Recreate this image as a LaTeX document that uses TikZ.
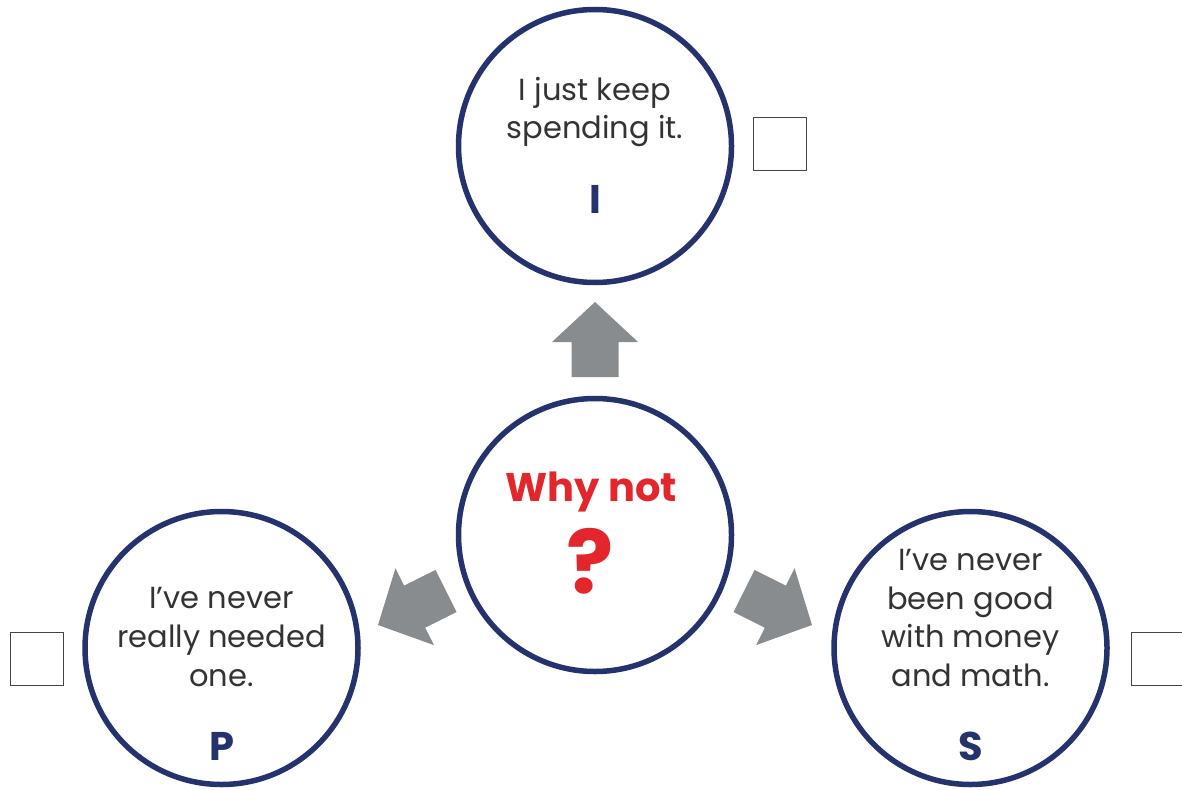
\documentclass[tikz,border=0pt]{standalone}
\usepackage{fontspec}
\setmainfont{Poppins}
\usetikzlibrary{calc}
\definecolor{navy}{HTML}{24336E}
\definecolor{txtgray}{HTML}{333333}
\definecolor{arrgray}{HTML}{898C8E}
\definecolor{whyred}{HTML}{E3262B}
\definecolor{boxgray}{HTML}{444444}
\tikzset{
  bubble/.style={circle, draw=navy, line width=5.5pt, fill=white, minimum size=273pt, inner sep=0pt},
  bodytext/.style={text=txtgray, align=center, font=\fontsize{30.5}{38.7}\selectfont},
  letter/.style={text=navy, font=\fontsize{40}{40}\selectfont\bfseries},
  tickbox/.style={draw=boxgray, line width=1.4pt, minimum size=53pt, inner sep=0pt},
  bigarrow/.style={fill=arrgray, draw=none},
}
% #1 tip, #2 back centre, #3 prefix for helper coordinates
\newcommand{\grayarrow}[3]{%
  \coordinate (#3h) at ($(#2)!35pt!(#1)$);
  \coordinate (#3a) at ($(#3h)!43pt!90:(#1)$);
  \coordinate (#3b) at ($(#3h)!23.5pt!90:(#1)$);
  \coordinate (#3c) at ($(#2)!23.5pt!90:(#1)$);
  \coordinate (#3d) at ($(#2)!23.5pt!-90:(#1)$);
  \coordinate (#3e) at ($(#3h)!23.5pt!-90:(#1)$);
  \coordinate (#3f) at ($(#3h)!43pt!-90:(#1)$);
  \fill[bigarrow] (#1) -- (#3a) -- (#3b) -- (#3c) -- (#3d) -- (#3e) -- (#3f) -- cycle;}
\begin{document}
\begin{tikzpicture}[x=1pt,y=-1pt]
\useasboundingbox (0,0) rectangle (1182,789);
\clip (0,0) rectangle (1182,789);
% circles
\node[bubble] (top) at (595,146) {};
\node[bubble] (mid) at (595,535) {};
\node[bubble] (left) at (221.5,648) {};
\node[bubble] (right) at (970.5,648) {};
% texts
\node[bodytext] (toptext) at (595,112) {I just keep\\spending it.};
\node[letter] (topletter) at (595,199) {I};
\node[bodytext] (lefttext) at (221.5,637) {I’ve never\\really needed\\one.};
\node[letter] (leftletter) at (222,746) {P};
\node[bodytext] (righttext) at (970.5,618) {I’ve never\\been good\\with money\\and math.};
\node[letter] (rightletter) at (970.5,746) {S};
\node[text=whyred, font=\fontsize{40}{40}\selectfont\bfseries] (why) at (591,492) {Why not};
\node[text=whyred, font=\fontsize{88}{88}\selectfont\bfseries] (qm) at (590,561) {?};
% arrows
\coordinate (upTip) at (595,302);
\coordinate (upBack) at (595,377);
\coordinate (lTip) at (378,625);
\coordinate (lBack) at (446,591);
\coordinate (rTip) at (812,625);
\coordinate (rBack) at (744,591);
\grayarrow{upTip}{upBack}{u}
\grayarrow{lTip}{lBack}{l}
\grayarrow{rTip}{rBack}{r}
% tick boxes
\node[tickbox] (boxI) at (780,144) {};
\node[tickbox] (boxP) at (37,659) {};
\node[tickbox] (boxS) at (1158,659) {};
\end{tikzpicture}
\end{document}
